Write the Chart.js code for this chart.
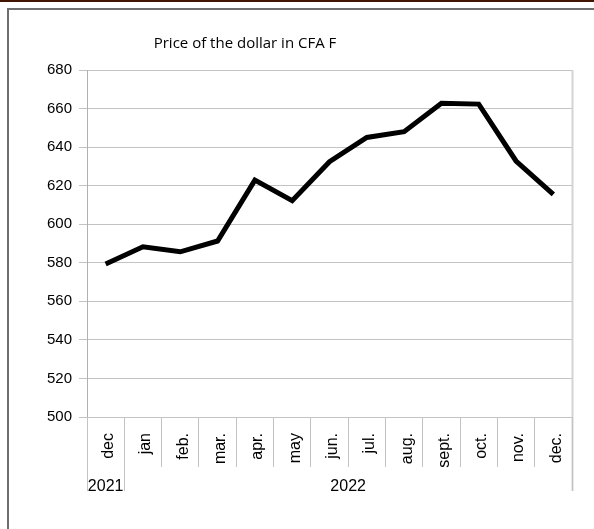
<!DOCTYPE html>
<html>
<head>
<meta charset="utf-8">
<script src="https://cdn.jsdelivr.net/npm/chart.js@4/dist/chart.umd.min.js"></script>
<style>
  html, body { margin: 0; padding: 0; background: #fff; }
  #wrap { position: relative; width: 594px; height: 529px; overflow: hidden; }
  #topbar { position: absolute; left: 0; top: 0; width: 594px; height: 2px; background: #3f1500; }
  #frameTop { position: absolute; left: 7px; top: 8px; width: 587px; height: 2px; background: #6e6e6e; }
  #frameLeft { position: absolute; left: 7px; top: 8px; width: 2px; height: 521px; background: #6e6e6e; }
  canvas { position: absolute; left: 0; top: 0; }
</style>
</head>
<body>
<div id="wrap">
  <canvas id="priceChart" width="594" height="529"></canvas>
  <div id="topbar"></div>
  <div id="frameTop"></div>
  <div id="frameLeft"></div>
</div>
<script>
const chartTitle = 'Price of the dollar in CFA F';
const months = ['dec', 'jan', 'feb.', 'mar.', 'apr.', 'may', 'jun.', 'jul.', 'aug.', 'sept.', 'oct.', 'nov.', 'dec.'];
const prices = [579.4, 588.3, 585.7, 591.3, 622.9, 612.2, 632.4, 645, 648, 662.7, 662.3, 632.8, 615.5];
const years = ['2021', '2022'];
const monthsPerYear = [1, 12];
const yMin = 500, yMax = 680, yStep = 20;

const gridGray = '#c3c3c3';

// title + year grouping under the month labels
const extras = {
  id: 'extras',
  afterDraw(chart) {
    const { ctx, chartArea, scales } = chart;
    const x = scales.x;
    const half = (x.getPixelForValue(1) - x.getPixelForValue(0)) / 2;
    ctx.save();

    // right edge of the plot
    ctx.strokeStyle = '#d4d4d4';
    ctx.lineWidth = 2;
    ctx.beginPath();
    ctx.moveTo(chartArea.right + 0.5, chartArea.top);
    ctx.lineTo(chartArea.right + 0.5, chartArea.bottom + 74);
    ctx.stroke();

    // year separators and labels
    ctx.strokeStyle = gridGray;
    ctx.lineWidth = 1;
    ctx.fillStyle = '#000';
    ctx.font = '16px "Liberation Sans", Arial, sans-serif';
    ctx.textAlign = 'center';
    ctx.textBaseline = 'middle';
    let start = 0;
    years.forEach((yr, i) => {
      const end = start + monthsPerYear[i] - 1;
      const left = x.getPixelForValue(start) - half;
      const right = x.getPixelForValue(end) + half;
      [left, right].forEach(px => {
        ctx.beginPath();
        ctx.moveTo(Math.round(px) + 0.5, chartArea.bottom);
        ctx.lineTo(Math.round(px) + 0.5, chartArea.bottom + 74);
        ctx.stroke();
      });
      ctx.fillText(yr, (left + right) / 2, chartArea.bottom + 70);
      start = end + 1;
    });

    // title
    ctx.font = '15px "Open Sans", sans-serif';
    ctx.fillText(chartTitle, 245, 44);
    ctx.restore();
  }
};

new Chart(document.getElementById('priceChart'), {
  type: 'line',
  data: {
    labels: months,
    datasets: [{
      data: prices,
      borderColor: '#000',
      borderWidth: 5,
      pointRadius: 0,
      tension: 0,
      fill: false,
    }],
  },
  options: {
    responsive: false,
    animation: false,
    layout: { padding: { left: 8, right: 22, top: 70, bottom: 0 } },
    plugins: { legend: { display: false }, tooltip: { enabled: false } },
    scales: {
      x: {
        offset: true,
        grid: { offset: true, drawOnChartArea: false, tickLength: 50, color: gridGray },
        border: { color: gridGray },
        ticks: {
          minRotation: 90, maxRotation: 90, padding: -34, labelOffset: 3,
          color: '#000', font: { family: '"Liberation Sans", Arial, sans-serif', size: 16 },
        },
        afterFit(scale) { scale.height = 112; },
      },
      y: {
        min: yMin, max: yMax,
        grid: { color: gridGray, tickLength: 8 },
        border: { color: '#b0b0b0' },
        ticks: {
          stepSize: yStep, padding: 7, color: '#000',
          font: { family: '"Liberation Sans", Arial, sans-serif', size: 15 },
        },
        afterFit(scale) { scale.width = 79; },
      },
    },
  },
  plugins: [extras],
});
</script>
</body>
</html>
